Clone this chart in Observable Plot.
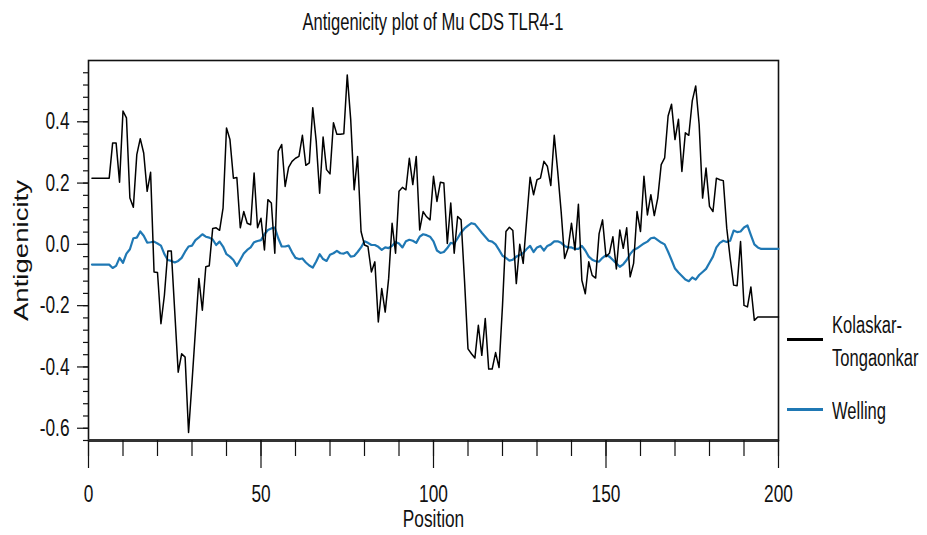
<!DOCTYPE html>
<html><head><meta charset="utf-8">
<script src="https://cdn.jsdelivr.net/npm/d3@7"></script>
<script src="https://cdn.jsdelivr.net/npm/@observablehq/plot@0.6"></script>
<style>
body{margin:0;background:#fff;}
#wrap{position:relative;width:927px;height:535px;font-family:"Liberation Sans",Arial,sans-serif;color:#111;}
#title{position:absolute;left:0;top:9px;width:866px;text-align:center;font-size:23px;transform:scaleX(0.72);transform-origin:433px 0;white-space:nowrap;}
#chart{position:absolute;left:0;top:45px;}
.lg{position:absolute;font-size:23px;line-height:33px;transform:scaleX(0.72);transform-origin:0 0;white-space:nowrap;}
.sw{position:absolute;height:3px;width:36px;}
</style></head>
<body>
<div id="wrap">
  <div id="title">Antigenicity plot of Mu CDS TLR4-1</div>
  <div id="chart"></div>
  <div class="sw" style="left:787px;top:338px;background:#000"></div>
  <div class="lg" style="left:832px;top:309px">Kolaskar-<br>Tongaonkar</div>
  <div class="sw" style="left:787px;top:408px;background:#1f78b4"></div>
  <div class="lg" style="left:832px;top:395px">Welling</div>
</div>
<script>
const seriesNames = ["Kolaskar-Tongaonkar", "Welling"];
const kolaskar = [
0.216,0.216,0.216,0.216,0.216,0.216,0.331,0.331,0.203,0.435,
0.413,0.151,0.121,0.293,0.345,0.298,0.173,0.235,-0.090,-0.092,
-0.259,-0.166,-0.022,-0.022,-0.22,-0.417,-0.357,-0.368,-0.614,-0.45,
-0.28,-0.111,-0.215,-0.073,-0.070,0.052,0.054,0.046,0.118,0.380,
0.342,0.216,0.218,0.054,0.107,0.069,0.064,0.233,0.054,0.085,
-0.018,0.146,0.135,-0.029,0.304,0.326,0.189,0.251,0.271,0.281,
0.287,0.356,0.258,0.266,0.446,0.337,0.167,0.350,0.244,0.230,
0.397,0.359,0.359,0.361,0.553,0.408,0.178,0.287,0.042,-0.002,
-0.007,-0.090,-0.057,-0.253,-0.144,-0.221,-0.111,0.069,-0.029,0.173,
0.186,0.178,0.281,0.195,0.287,0.047,0.107,0.090,0.080,0.222,
0.140,0.203,0.200,0.003,0.135,-0.029,0.091,0.080,-0.12,-0.341,
-0.357,-0.371,-0.264,-0.362,-0.242,-0.407,-0.407,-0.353,-0.402,-0.20,
0.042,0.056,0.045,-0.128,0.000,-0.062,0.080,0.219,0.162,0.211,
0.216,0.271,0.255,0.192,0.356,0.238,0.107,-0.046,-0.013,0.069,
-0.018,0.131,-0.117,-0.161,-0.057,-0.101,-0.110,0.035,0.080,-0.040,
-0.029,0.025,-0.080,0.047,-0.013,0.054,-0.106,-0.062,0.107,0.042,
0.222,0.096,0.162,0.094,0.151,0.260,0.282,0.419,0.457,0.342,
0.408,0.238,0.364,0.356,0.468,0.517,0.391,0.151,0.249,0.124,
0.107,0.216,0.211,0.208,0.053,-0.046,-0.133,-0.135,0.009,-0.199,
-0.204,-0.139,-0.248,-0.237,-0.237,-0.237,-0.237,-0.237,-0.237,-0.237
];
const welling = [
-0.066,-0.066,-0.066,-0.066,-0.066,-0.066,-0.077,-0.070,-0.044,-0.060,
-0.030,-0.016,0.020,0.022,0.042,0.028,0.006,0.007,0.009,0.003,
-0.004,-0.032,-0.051,-0.054,-0.059,-0.054,-0.044,-0.024,-0.007,-0.004,
0.014,0.023,0.033,0.025,0.022,0.016,-0.002,0.009,-0.007,-0.032,
-0.040,-0.051,-0.070,-0.050,-0.030,-0.018,-0.010,0.007,0.011,0.014,
0.033,0.047,0.052,0.055,0.020,-0.007,-0.007,-0.004,-0.026,-0.044,
-0.048,-0.046,-0.059,-0.069,-0.076,-0.056,-0.032,-0.048,-0.054,-0.034,
-0.029,-0.021,-0.029,-0.030,-0.025,-0.040,-0.038,-0.025,-0.010,0.010,
0.005,-0.002,-0.002,-0.008,-0.018,-0.010,-0.012,-0.005,0.008,0.003,
-0.010,0.010,0.015,0.012,0.005,0.025,0.033,0.030,0.025,0.010,
-0.020,-0.028,-0.025,-0.012,0.005,0.002,0.020,0.039,0.052,0.061,
0.069,0.066,0.052,0.038,0.025,0.012,0.009,0.000,-0.018,-0.037,
-0.044,-0.053,-0.050,-0.040,-0.035,-0.028,-0.015,-0.005,-0.025,-0.010,
-0.005,-0.020,-0.005,0.000,0.010,0.010,0.005,-0.005,-0.010,-0.010,
-0.015,-0.015,-0.005,-0.020,-0.040,-0.050,-0.055,-0.056,-0.044,-0.035,
-0.040,-0.051,-0.062,-0.073,-0.065,-0.051,-0.032,-0.018,-0.013,-0.005,
0.003,0.009,0.020,0.022,0.014,0.006,0.000,-0.024,-0.051,-0.079,
-0.092,-0.103,-0.115,-0.120,-0.108,-0.115,-0.100,-0.090,-0.080,-0.060,
-0.040,-0.010,0.005,0.012,0.008,0.012,0.045,0.040,0.042,0.055,
0.062,0.030,0.000,-0.010,-0.015,-0.015,-0.015,-0.015,-0.015,-0.015
];
const xMajorTicks = [0, 50, 100, 150, 200];
const xMinorTicks = [0,10,20,30,40,50,60,70,80,90,100,110,120,130,140,150,160,170,180,190,200];
const yMajorTicks = [-0.6, -0.4, -0.2, 0.0, 0.2, 0.4];
const yMinorTicks = [-0.64,-0.6,-0.56,-0.52,-0.48,-0.44,-0.4,-0.36,-0.32,-0.28,-0.24,-0.2,-0.16,-0.12,-0.08,-0.04,0,0.04,0.08,0.12,0.16,0.2,0.24,0.28,0.32,0.36,0.4,0.44,0.48,0.52,0.56];
const xDomain = [0, 200];
const yDomain = [-0.64, 0.6];
const axisTitles = {x: "Position", y: "Antigenicity"};

const kData = kolaskar.map((v, i) => ({pos: i + 1, value: v}));
const wData = welling.map((v, i) => ({pos: i + 1, value: v}));

const chart = Plot.plot({
  width: 927,
  height: 490,
  marginTop: 15,
  marginBottom: 95,
  marginLeft: 88,
  marginRight: 149,
  style: {fontFamily: '"Liberation Sans",Arial,sans-serif', fontSize: "24px", color: "#111", background: "#fff"},
  x: {domain: xDomain},
  y: {domain: yDomain},
  marks: [
    Plot.frame({stroke: "#111", strokeWidth: 1.6}),
    Plot.ruleY([yDomain[0]], {stroke: "#333", strokeWidth: 3}),
    Plot.axisX({ticks: xMinorTicks, tickSize: 16, tickFormat: () => "", label: null, strokeWidth: 1.2}),
    Plot.axisX({ticks: xMajorTicks, tickSize: 28, tickPadding: 16, tickFormat: d => String(d), label: null, fontSize: 24, strokeWidth: 1.2}),
    Plot.axisY({ticks: yMinorTicks, tickSize: 5, tickFormat: () => "", label: null, strokeWidth: 1.2}),
    Plot.axisY({ticks: yMajorTicks, tickSize: 11, tickPadding: 8, tickFormat: d => d.toFixed(1), label: null, fontSize: 24, strokeWidth: 1.2}),
    Plot.text([axisTitles.y], {text: d => d, frameAnchor: "left", textAnchor: "middle", rotate: -90, dx: -67, fontSize: 20}),
    Plot.text([axisTitles.x], {text: d => d, frameAnchor: "bottom", dy: 86, fontSize: 24}),
    Plot.line(wData, {x: "pos", y: "value", stroke: "#1f78b4", strokeWidth: 2.2}),
    Plot.line(kData, {x: "pos", y: "value", stroke: "#000", strokeWidth: 1.5})
  ]
});
document.getElementById("chart").appendChild(chart);

// horizontally condense text (stretch the rotated y title) around its anchor point
chart.querySelectorAll("text").forEach(t => {
  const s = t.textContent.trim();
  if (!s) return;
  const f = s === axisTitles.y ? 1.38 : 0.72;
  const b = t.getBBox();
  const anchor = getComputedStyle(t).textAnchor;
  const ax = anchor === "middle" ? b.x + b.width / 2 : anchor === "end" ? b.x + b.width : b.x;
  const tr = t.getAttribute("transform") || "";
  t.setAttribute("transform", `${tr} translate(${ax},0) scale(${f},1) translate(${-ax},0)`);
});
</script>
</body></html>
